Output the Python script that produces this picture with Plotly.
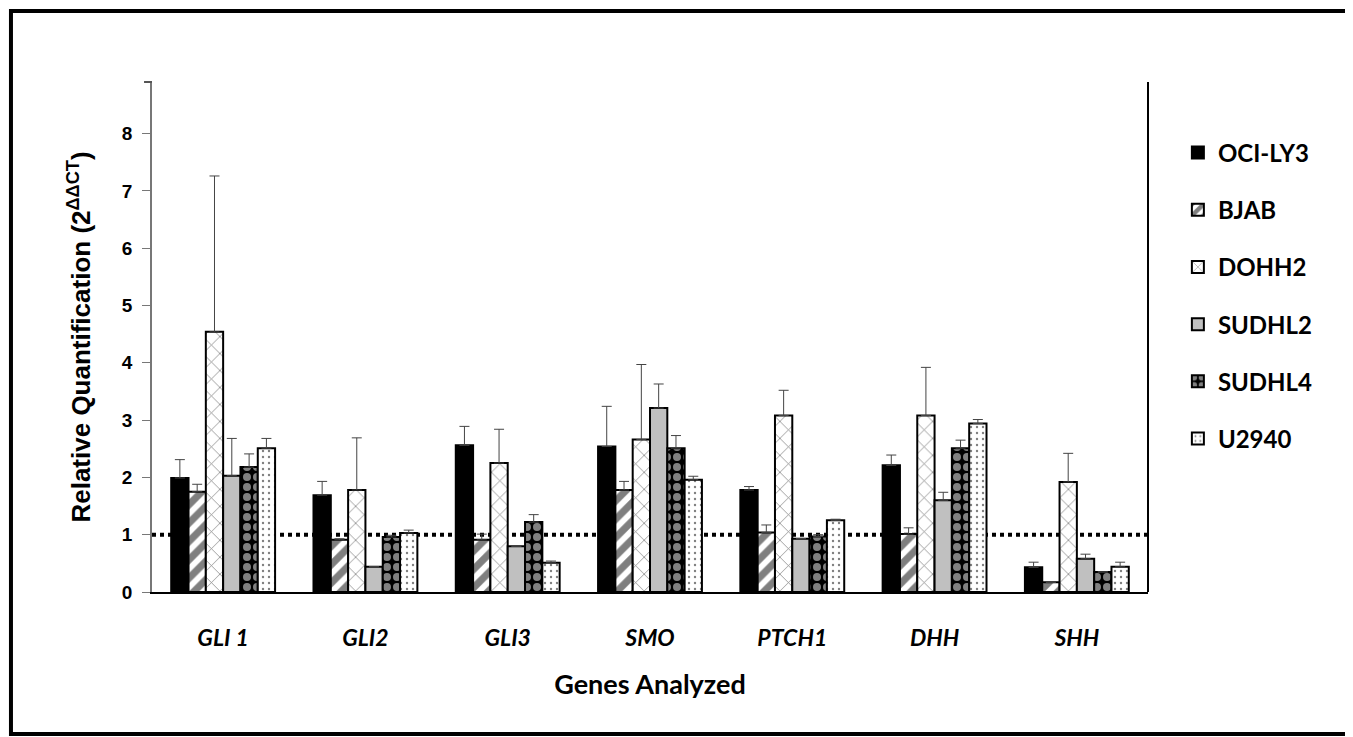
import plotly.graph_objects as go

genes = ["GLI 1", "GLI2", "GLI3", "SMO", "PTCH1", "DHH", "SHH"]
gene_labels = ["GLI 1", "GLI2", "GLI3", "SMO", "PTCH1", "DHH", "SHH"]

oci_ly3 = [1.99, 1.69, 2.56, 2.54, 1.78, 2.21, 0.43]
oci_ly3_err = [0.32, 0.24, 0.33, 0.70, 0.06, 0.18, 0.09]
bjab = [1.75, 0.91, 0.91, 1.78, 1.04, 1.01, 0.17]
bjab_err = [0.13, 0.02, 0.10, 0.15, 0.13, 0.11, 0.0]
dohh2 = [4.54, 1.78, 2.25, 2.66, 3.08, 3.08, 1.92]
dohh2_err = [2.72, 0.91, 0.59, 1.31, 0.44, 0.84, 0.50]
sudhl2 = [2.03, 0.44, 0.80, 3.21, 0.93, 1.60, 0.58]
sudhl2_err = [0.65, 0.0, 0.0, 0.42, 0.0, 0.14, 0.08]
sudhl4 = [2.18, 0.96, 1.22, 2.51, 0.97, 2.51, 0.35]
sudhl4_err = [0.23, 0.03, 0.13, 0.22, 0.03, 0.14, 0.0]
u2940 = [2.51, 1.03, 0.51, 1.96, 1.25, 2.94, 0.44]
u2940_err = [0.17, 0.05, 0.03, 0.06, 0.02, 0.07, 0.08]

series_names = ["OCI-LY3", "BJAB", "DOHH2", "SUDHL2", "SUDHL4", "U2940"]
series_vals = [oci_ly3, bjab, dohh2, sudhl2, sudhl4, u2940]
series_errs = [oci_ly3_err, bjab_err, dohh2_err, sudhl2_err, sudhl4_err, u2940_err]

patterns = [
    dict(shape="", bgcolor="black", fgcolor="black"),
    dict(shape="/", bgcolor="white", fgcolor="black", size=13, solidity=0.55),
    dict(shape="x", bgcolor="white", fgcolor="black", size=12, solidity=0.12),
    dict(shape="", bgcolor="#c0c0c0", fgcolor="#c0c0c0"),
    dict(shape=".", bgcolor="black", fgcolor="white", size=10, solidity=0.5),
    dict(shape=".", bgcolor="white", fgcolor="black", size=6, solidity=0.12),
]
fills = ["black", "white", "white", "#c0c0c0", "black", "white"]

fig = go.Figure()
for i, (name, vals, errs) in enumerate(zip(series_names, series_vals, series_errs)):
    fig.add_trace(go.Bar(
        x=genes, y=vals, name=name, legendgroup=name,
        marker=dict(color=fills[i], line=dict(color="black", width=2), pattern=patterns[i]),
        error_y=dict(type="data", array=errs, arrayminus=[0] * len(errs), symmetric=False,
                     color="#444444", thickness=1, width=5),
    ))

fig.add_shape(type="line", xref="paper", yref="y", x0=0, x1=1, y0=1, y1=1,
              line=dict(color="black", width=4, dash="dot"), layer="below")
fig.add_shape(type="line", xref="paper", yref="paper", x0=1, x1=1, y0=0, y1=1,
              line=dict(color="black", width=2))
fig.add_shape(type="line", xref="paper", yref="paper", x0=-0.008, x1=0, y0=1, y1=1,
              line=dict(color="#555555", width=2))
fig.add_shape(type="rect", xref="paper", yref="paper", x0=-0.1416, x1=1.2028, y0=-0.2784, y1=1.139,
              line=dict(color="black", width=4), fillcolor="rgba(0,0,0,0)")

fig.update_layout(
    width=1345, height=729,
    margin=dict(l=144, r=205, t=74, b=145),
    plot_bgcolor="white", paper_bgcolor="white",
    barmode="group", bargap=0.27, bargroupgap=0,
    showlegend=True,
    legend=dict(x=1.03, y=0.905, xanchor="left", yanchor="top",
                font=dict(family="Lato", size=24, color="black", weight="bold"),
                tracegroupgap=23, itemwidth=30),
    xaxis=dict(tickvals=genes, ticktext=gene_labels, showline=True, linecolor="black", linewidth=2,
               ticks="", tickfont=dict(family="Lato", size=23, color="black", style="italic", weight="bold"),
               ticklabelstandoff=24,
               title=dict(text="Genes Analyzed", font=dict(family="Lato", size=27, color="black", weight="bold"),
                          standoff=26)),
    yaxis=dict(range=[0, 8.9], tickvals=[0, 1, 2, 3, 4, 5, 6, 7, 8], showgrid=False, zeroline=False,
               showline=True, linecolor="#777777", linewidth=1.5, ticks="outside", ticklen=8,
               tickcolor="#777777", tickfont=dict(family="Arial", size=19, color="black", weight="bold"),
               ticklabelstandoff=6,
               title=dict(text="Relative Quantification (2<sup>ΔΔCT</sup>)",
                          font=dict(family="Arial", size=26, color="black", weight="bold"), standoff=24)),
)

fig.write_html("out.html")
